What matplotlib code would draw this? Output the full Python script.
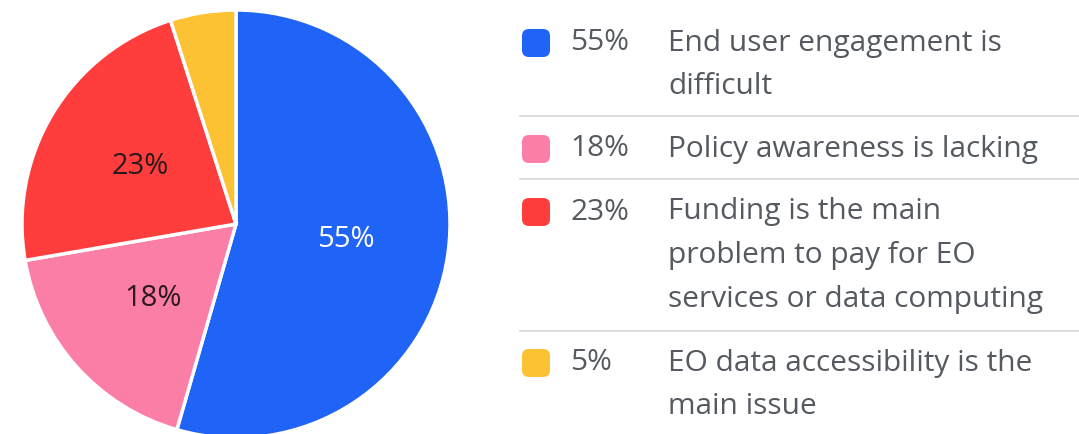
import numpy as np
import matplotlib
matplotlib.use('Agg')
import matplotlib.pyplot as plt
from matplotlib.patches import FancyBboxPatch
from matplotlib.lines import Line2D

# survey answers, clockwise from the top
shares = [55, 18, 23, 5]
colors = ['#1f63f7', '#fb7ea6', '#ff3d3d', '#fcc233']
pie_labels = ['55%', '18%', '23%', '']
pie_label_colors = ['white', '#2a1a1a', '#2a1a1a', '#2a1a1a']

legend_order = [0, 1, 2, 3]
legend_pcts = ['55%', '18%', '23%', '5%']
legend_texts = [
    'End user engagement is\ndifficult',
    'Policy awareness is lacking',
    'Funding is the main\nproblem to pay for EO\nservices or data computing',
    'EO data accessibility is the\nmain issue',
]

W, H = 1079, 434
fig = plt.figure(figsize=(W / 100, H / 100), dpi=100)
plt.rcParams['font.family'] = ['Open Sans', 'DejaVu Sans']

# pie axes: centre (236, 224) px, radius 214 px
cx, cy, r = 236, 224, 214
ax = fig.add_axes([(cx - r) / W, (H - cy - r) / H, 2 * r / W, 2 * r / H])
wedges, _ = ax.pie(shares, colors=colors, startangle=90, counterclock=False,
                   wedgeprops=dict(edgecolor='white', linewidth=2.5))
ax.set_xlim(-1, 1)
ax.set_ylim(-1, 1)
ax.set_aspect('equal')

for w, lab, c in zip(wedges, pie_labels, pie_label_colors):
    if not lab:
        continue
    mid = np.deg2rad((w.theta1 + w.theta2) / 2)
    ax.text(0.52 * np.cos(mid), 0.52 * np.sin(mid), lab, ha='center', va='center',
            fontsize=21, color=c)

# legend block on the right, in pixel coordinates
lax = fig.add_axes([0, 0, 1, 1])
lax.set_xlim(0, W)
lax.set_ylim(H, 0)
lax.axis('off')

row_y = [43, 149, 212, 363]
sep_y = [116, 179, 331]
line_h = 44
text_col = '#555a60'

for i, y in zip(legend_order, row_y):
    lax.add_patch(FancyBboxPatch((522, y - 14), 28, 28,
                                 boxstyle='round,pad=0,rounding_size=7',
                                 facecolor=colors[i], edgecolor='none'))
    lax.text(570, y, legend_pcts[i], ha='left', va='center', fontsize=21.5, color=text_col)
    for k, line in enumerate(legend_texts[i].split('\n')):
        lax.text(668, y + k * line_h, line, ha='left', va='center', fontsize=21.5,
                 color=text_col)

for y in sep_y:
    lax.add_line(Line2D([520, W], [y, y], color='#d4d4d4', linewidth=1.2))

fig.savefig('out.png', dpi=100)
